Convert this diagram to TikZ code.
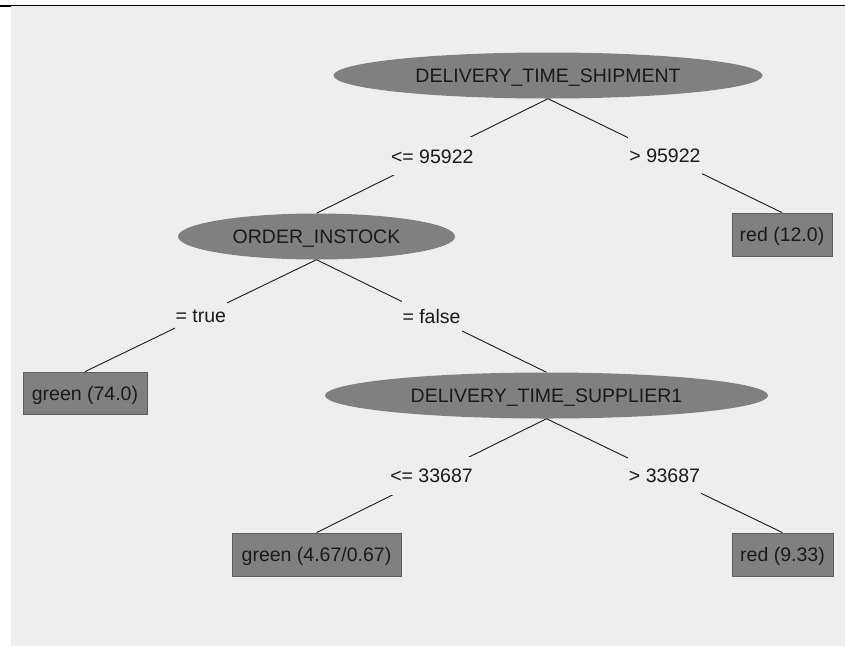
\documentclass[tikz,border=0pt]{standalone}
\usepackage{fontspec}
\setmainfont{Liberation Sans}
\usetikzlibrary{shapes.geometric}
\definecolor{bg}{HTML}{EEEEEE}
\definecolor{nodegray}{HTML}{808080}
\definecolor{txt}{HTML}{1A1A1A}
\definecolor{boxedge}{HTML}{5E5E5E}
\begin{document}
\begin{tikzpicture}[x=1pt,y=-1pt,
  every node/.style={font=\fontsize{19.5}{23}\selectfont, text=txt, text height=14pt, text depth=0pt},
  splitnode/.style={ellipse, fill=nodegray, inner sep=0pt, minimum height=46pt},
  leafnode/.style={rectangle, fill=nodegray, draw=boxedge, line width=0.8pt, inner sep=0pt, minimum height=43pt},
  conn/.style={draw=txt, line width=0.9pt},
  cond/.style={fill=bg, inner xsep=1pt, inner ysep=0pt, minimum height=38pt}]
\useasboundingbox (0,0) rectangle (845,646);
\fill[white] (0,0) rectangle (845,646);
\fill[bg] (10.5,6) rectangle (845,645.5);
\fill[black] (0,4.5) rectangle (845,6);
\fill[black] (0,4.5) rectangle (11,7);
\node[splitnode, minimum width=429pt] (n1) at (548,75.5) {DELIVERY\_TIME\_SHIPMENT};
\node[splitnode, minimum width=277pt] (n2) at (316.5,236.5) {ORDER\_INSTOCK};
\node[splitnode, minimum width=443pt] (n3) at (546.5,395.5) {DELIVERY\_TIME\_SUPPLIER1};
\node[leafnode, minimum width=100pt] (l1) at (782,234.5) {red (12.0)};
\node[leafnode, minimum width=124pt, minimum height=42pt] (l2) at (85,393) {green (74.0)};
\node[leafnode, minimum width=169pt] (l3) at (316.5,554.5) {green (4.67/0.67)};
\node[leafnode, minimum width=101pt] (l4) at (782.5,554.5) {red (9.33)};
\draw[conn] (n1.south) -- (n2.north) node[cond, midway] (c1) {<= 95922};
\draw[conn] (n1.south) -- (l1.north) node[cond, midway] (c2) {> 95922};
\draw[conn] (n2.south) -- (l2.north) node[cond, midway] (c3) {= true};
\draw[conn] (n2.south) -- (n3.north) node[cond, midway] (c4) {= false};
\draw[conn] (n3.south) -- (l3.north) node[cond, midway] (c5) {<= 33687};
\draw[conn] (n3.south) -- (l4.north) node[cond, midway] (c6) {> 33687};
\end{tikzpicture}
\end{document}
